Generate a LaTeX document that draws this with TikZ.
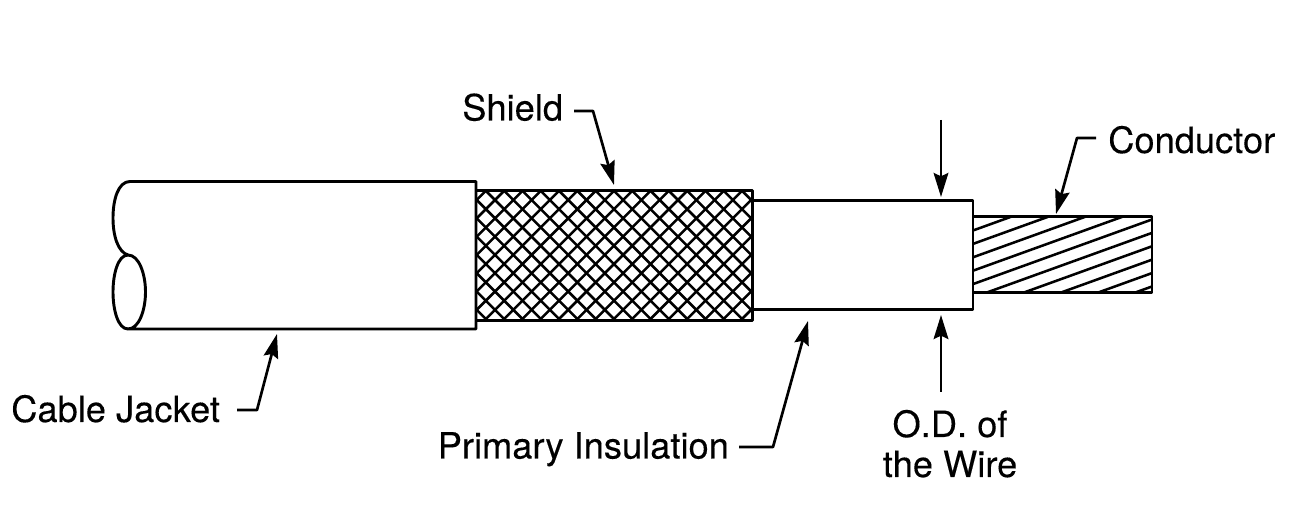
\documentclass[tikz,border=0pt]{standalone}
\usepackage{fontspec}
\setmainfont[FakeBold=0.2]{TeX Gyre Heros}
\usetikzlibrary{arrows.meta}
\tikzset{
  body/.style={line width=2.2pt,line join=round},
  hatchline/.style={line width=1.9pt},
  leader/.style={line width=2pt,line join=round,-{Stealth[length=18pt,width=11pt,inset=2.5pt]}},
  lab/.style={anchor=base west,inner sep=0pt,font=\fontsize{27.2}{27.2}\selectfont},
  labc/.style={anchor=base,inner sep=0pt,font=\fontsize{27.2}{27.2}\selectfont}
}
\begin{document}
\begin{tikzpicture}[x=0.75pt,y=-0.75pt]
\useasboundingbox (0,0) rectangle (1297,523);
\fill[white] (0,0) rectangle (1297,523);
% shield braid
\begin{scope}
\clip (476,190.7) rectangle (752.5,320.7);
\foreach \k in {-14,...,22} {
  \draw[hatchline] ({695+18.3*\k-180},180) -- ({695+18.3*\k-340},340);
  \draw[hatchline] ({295+18.3*\k+180},180) -- ({295+18.3*\k+340},340);
}
\end{scope}
\draw[body] (476,190.7) rectangle (752.5,320.7);
% conductor strands
\begin{scope}
\clip (973,216.7) rectangle (1152,292.3);
\foreach \k in {0,...,9} {
  \draw[hatchline] (973,{230.5+13.4*\k}) -- (1160,{230.5+13.4*\k-0.361*187});
}
\end{scope}
\draw[body] (973,216.7) rectangle (1152,292.3);
% insulation
\draw[body,fill=white] (752.5,200.7) rectangle (973,309.3);
% jacket
\draw[body,fill=white] (476,181.5) -- (130,181.5)
  .. controls (118,181.5) and (113,200) .. (113,218)
  .. controls (113,236) and (118,252) .. (128,255)
  .. controls (139,255) and (145.5,274) .. (145.5,292)
  .. controls (145.5,310) and (139,329) .. (128,329)
  -- (476,329) -- cycle;
\draw[body] (128,255) .. controls (118,255) and (113,274) .. (113,292)
  .. controls (113,310) and (118,329) .. (128,329);
% labels
\node[lab] (shield) at (462,120.5) {Shield};
\node[lab] (conductor) at (1108,153) {Conductor};
\node[lab] (jacket) at (11,422) {Cable Jacket};
\node[lab] (insulation) at (437.5,458.5) {Primary Insulation};
\node[labc] (od) at (950,437) {O.D. of};
\node[labc] (wire) at (950,477) {the Wire};
% leader geometry
\coordinate (sh0) at (574,111); \coordinate (sh1) at (593,111); \coordinate (shT) at (614,185);
\coordinate (co0) at (1096,138); \coordinate (co1) at (1077,138); \coordinate (coT) at (1056,214);
\coordinate (ja0) at (237,410); \coordinate (ja1) at (257,410); \coordinate (jaT) at (277,334);
\coordinate (in0) at (739,447); \coordinate (in1) at (773,447); \coordinate (inT) at (808,321);
\coordinate (odA) at (941,392); \coordinate (odAT) at (941,315);
\coordinate (odB) at (941,120); \coordinate (odBT) at (941,197);
\draw[leader] (sh0) -- (sh1) -- (shT);
\draw[leader] (co0) -- (co1) -- (coT);
\draw[leader] (ja0) -- (ja1) -- (jaT);
\draw[leader] (in0) -- (in1) -- (inT);
\draw[leader] (odA) -- (odAT);
\draw[leader] (odB) -- (odBT);
\end{tikzpicture}
\end{document}
